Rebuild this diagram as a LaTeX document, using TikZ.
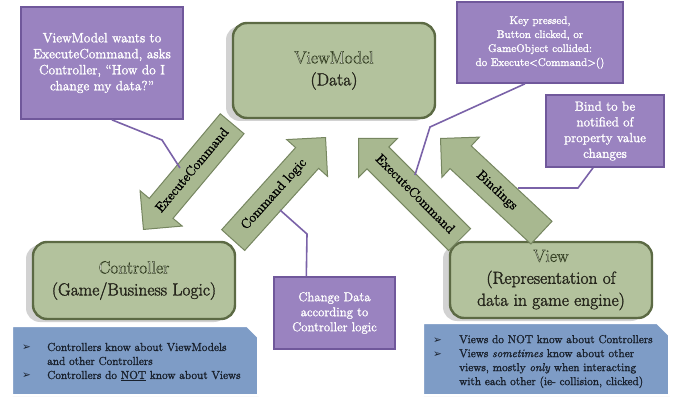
\documentclass[tikz,border=0pt]{standalone}
\usepackage{fontspec}
\setmainfont{Latin Modern Roman}[FakeBold=1.8]
\newfontfamily\plainlm{Latin Modern Roman}
\newfontfamily\dejavu{DejaVu Sans}
\usetikzlibrary{shapes.arrows,shadows,calc}
\definecolor{gfill}{RGB}{179,194,157}
\definecolor{gdraw}{RGB}{92,106,68}
\definecolor{afill}{RGB}{168,184,144}
\definecolor{adraw}{RGB}{118,134,96}
\definecolor{pfill}{RGB}{154,131,192}
\definecolor{pdraw}{RGB}{112,88,155}
\definecolor{pline}{RGB}{122,98,168}
\definecolor{bfill}{RGB}{126,156,198}
\definecolor{btext}{RGB}{25,33,45}
\definecolor{gtext}{RGB}{38,38,28}
\newcommand\glow[1]{{\plainlm\color{white}\special{pdf:literal direct 0.20 0.25 0.12 RG 0.45 w 2 Tr}#1\special{pdf:literal direct 0 Tr}}}
\newcommand\bul[1][25pt]{\makebox[#1][l]{\dejavu\fontsize{10.5}{10}\selectfont ➢}}
\begin{document}
\begin{tikzpicture}[x=1pt,y=-1pt,
  gbox/.style={draw=gdraw, fill=gfill, line width=2.4pt, rounded corners=14pt,
    minimum width=202pt, align=center, text=gtext,
    font=\fontsize{17.5}{22}\selectfont,
    drop shadow={shadow xshift=-7pt, shadow yshift=-3pt, opacity=0.25, fill=black!70}},
  pbox/.style={draw=pdraw, fill=pfill, line width=1.6pt, text=white, align=center, inner sep=0pt},
  conn/.style={draw=pline, line width=1.6pt},
  barrow/.style={single arrow, draw=adraw, fill=afill, line width=1pt,
    single arrow head extend=12pt, single arrow tip angle=90,
    text height=9.5pt, text depth=3pt, inner xsep=0pt, inner ysep=8.75pt,
    font=\fontsize{13.5}{14}\selectfont, anchor=tip},
  bshape/.style={fill=bfill, draw=white, line width=2pt,
    drop shadow={shadow xshift=0.5pt, shadow yshift=-1pt, opacity=0.4, fill=black!50}},
  btextst/.style={text=btext, align=left, inner sep=0pt, anchor=west,
    font=\fontsize{11.5}{14}\selectfont}
]
\useasboundingbox (0,0) rectangle (680,406);

% green boxes
\node[gbox, minimum height=95pt] (vm) at (334,70.5) {\glow{ViewModel}\\(Data)};
\node[gbox, minimum height=77pt] (ctrl) at (134,280.5) {\glow{Controller}\\(Game/Business Logic)};
\node[gbox, minimum height=76pt] (view) at (551,280) {\glow{View}\\(Representation of\\data in game engine)};

% block arrows
\node[barrow, rotate=50, shape border rotate=180, minimum height=138pt] (a1) at (143,230) {ExecuteCommand};
\node[barrow, rotate=48, minimum height=138pt] (a2) at (326,137) {Command logic};
\node[barrow, rotate=-45, shape border rotate=180, minimum height=143pt] (a3) at (358,138) {ExecuteCommand};
\node[barrow, rotate=-43, shape border rotate=180, minimum height=138pt] (a4) at (440,138) {Bindings};

% purple notes
\node[pbox, minimum width=162pt, minimum height=112pt, font=\fontsize{13.5}{16}\selectfont] (p1) at (102,63)
  {ViewModel wants to\\ExecuteCommand, asks\\Controller, “How do I\\change my data?”};
\node[pbox, minimum width=166pt, minimum height=81pt, font=\fontsize{11}{14}\selectfont] (p2) at (540,42.5)
  {Key pressed,\\Button clicked, or\\GameObject collided:\\do Execute<Command>()};
\node[pbox, minimum width=118pt, minimum height=72pt, font=\fontsize{13.2}{15.7}\selectfont] (p3) at (605,131)
  {Bind to be\\notified of\\property value\\changes};
\node[pbox, minimum width=121pt, minimum height=72pt, font=\fontsize{12.8}{15}\selectfont] (p4) at (334.5,313)
  {Change Data\\according to\\Controller logic};

% connectors
\coordinate (c1) at (180,168);
\coordinate (c2) at (415,175);
\coordinate (c3) at (518,188);
\coordinate (c4) at (280,210);
\draw[conn] ($(p1.south west)!0.56!(p1.south east)$) -- (162,140) -- (c1);
\draw[conn] ($(p2.south west)!0.41!(p2.south east)$) -- (430,127) -- (c2);
\draw[conn] ($(p3.south west)!0.40!(p3.south east)$) -- (578,188) -- (c3);
\draw[conn] ($(p4.north west)!0.27!(p4.north east)$) -- (307,234) -- (c4);

% blue info boxes
\path[bshape] (12,326) -- (247,326) -- (258,337) -- (258,395) -- (12,395) -- cycle;
\path[bshape] (423,323) -- (657,323) -- (669,335) -- (669,395) -- (423,395) -- cycle;
\node[btextst] (bl) at (22,362)
  {\bul Controllers know about ViewModels\\\hspace*{25pt}and other Controllers\\\bul Controllers do \underline{NOT} know about Views};
\node[btextst] (br) at (433,361.5)
  {\bul[26pt]Views do NOT know about Controllers\\\bul[26pt]Views \emph{sometimes} know about other\\\hspace*{26pt}views, mostly \emph{only} when interacting\\\hspace*{26pt}with each other (ie- collision, clicked)};
\end{tikzpicture}
\end{document}
